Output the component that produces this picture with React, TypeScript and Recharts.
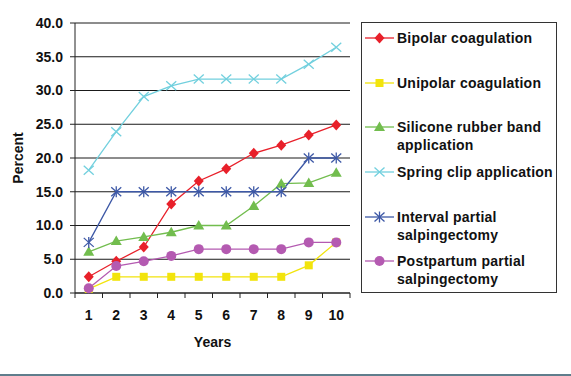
import { LineChart, Line, XAxis, YAxis, CartesianGrid, Legend } from "recharts";

const years = ["1", "2", "3", "4", "5", "6", "7", "8", "9", "10"];
const bipolar = [2.4, 4.7, 6.8, 13.2, 16.6, 18.4, 20.7, 21.9, 23.4, 24.9];
const unipolar = [0.6, 2.4, 2.4, 2.4, 2.4, 2.4, 2.4, 2.4, 4.1, 7.5];
const silicone = [6.1, 7.7, 8.3, 9.0, 10.0, 10.0, 12.9, 16.2, 16.3, 17.8];
const springClip = [18.2, 23.9, 29.1, 30.7, 31.7, 31.7, 31.7, 31.7, 33.9, 36.4];
const interval = [7.5, 15.0, 15.0, 15.0, 15.0, 15.0, 15.0, 15.0, 20.0, 20.0];
const postpartum = [0.7, 4.0, 4.7, 5.5, 6.5, 6.5, 6.5, 6.5, 7.5, 7.5];
const yTicks = [0, 5, 10, 15, 20, 25, 30, 35, 40];

const series = [
  { key: "bipolar", name: "Bipolar coagulation", lines: ["Bipolar coagulation"], color: "#e8202a", kind: "diamond" },
  { key: "unipolar", name: "Unipolar coagulation", lines: ["Unipolar coagulation"], color: "#f2e40c", kind: "square" },
  { key: "silicone", name: "Silicone rubber band application", lines: ["Silicone rubber band", "application"], color: "#72bd4e", kind: "triangle" },
  { key: "springClip", name: "Spring clip application", lines: ["Spring clip application"], color: "#72d0de", kind: "x" },
  { key: "interval", name: "Interval partial salpingectomy", lines: ["Interval partial", "salpingectomy"], color: "#3d58a6", kind: "star" },
  { key: "postpartum", name: "Postpartum partial salpingectomy", lines: ["Postpartum partial", "salpingectomy"], color: "#b45ab1", kind: "circle" },
];

const data = years.map((year, i) => ({
  year,
  bipolar: bipolar[i],
  unipolar: unipolar[i],
  silicone: silicone[i],
  springClip: springClip[i],
  interval: interval[i],
  postpartum: postpartum[i],
}));

const FONT = "Arial, 'Liberation Sans', sans-serif";
const PLOT_LEFT = 75;
const PLOT_W = 275;
const STEP = PLOT_W / years.length;

function Marker({ kind, cx, cy, color }: { kind: string; cx: number; cy: number; color: string }) {
  switch (kind) {
    case "diamond":
      return <polygon points={`${cx},${cy - 5.5} ${cx + 5},${cy} ${cx},${cy + 5.5} ${cx - 5},${cy}`} fill={color} />;
    case "square":
      return <rect x={cx - 4} y={cy - 4} width={8} height={8} fill={color} />;
    case "triangle":
      return <polygon points={`${cx},${cy - 5.5} ${cx + 5.5},${cy + 4} ${cx - 5.5},${cy + 4}`} fill={color} />;
    case "x":
      return (
        <g stroke={color} strokeWidth={1.3}>
          <line x1={cx - 5} y1={cy - 4.5} x2={cx + 5} y2={cy + 4.5} />
          <line x1={cx - 5} y1={cy + 4.5} x2={cx + 5} y2={cy - 4.5} />
        </g>
      );
    case "star":
      return (
        <g stroke={color} strokeWidth={1.3}>
          <line x1={cx - 5} y1={cy - 4.5} x2={cx + 5} y2={cy + 4.5} />
          <line x1={cx - 5} y1={cy + 4.5} x2={cx + 5} y2={cy - 4.5} />
          <line x1={cx} y1={cy - 5.5} x2={cx} y2={cy + 5.5} />
        </g>
      );
    default:
      return <circle cx={cx} cy={cy} r={5} fill={color} />;
  }
}

function XTick(props: any) {
  const { x, y, payload, index } = props;
  const axisY = y - 17;
  return (
    <g>
      <line x1={x - STEP / 2} y1={axisY} x2={x - STEP / 2} y2={axisY + 5} stroke="#222" />
      {index === years.length - 1 && (
        <line x1={x + STEP / 2} y1={axisY} x2={x + STEP / 2} y2={axisY + 5} stroke="#222" />
      )}
      <text x={x} y={y} dy="0.71em" textAnchor="middle" fontSize={14} fontWeight="bold" fill="#111" fontFamily={FONT}>
        {payload.value}
      </text>
    </g>
  );
}

function LegendBox() {
  return (
    <div
      style={{
        boxSizing: "border-box",
        width: 196,
        height: 271,
        border: "1px solid #333",
        background: "#fff",
        paddingTop: 6,
        fontFamily: FONT,
        fontSize: 14,
        fontWeight: "bold",
        color: "#111",
        letterSpacing: "0.25px",
        lineHeight: "18px",
      }}
    >
      {series.map((s) => (
        <div key={s.key} style={{ height: 44.7, display: "flex", alignItems: "flex-start" }}>
          <svg width={35} height={18} style={{ flex: "none" }}>
            <line x1={3} y1={9} x2={32} y2={9} stroke={s.color} strokeWidth={1.3} />
            <Marker kind={s.kind} cx={17.5} cy={9} color={s.color} />
          </svg>
          <div style={{ whiteSpace: "nowrap" }}>
            {s.lines.map((t) => (
              <div key={t}>{t}</div>
            ))}
          </div>
        </div>
      ))}
    </div>
  );
}

export default function App() {
  return (
    <div style={{ position: "absolute", left: 0, top: 0, width: 571, height: 376, background: "#fff", fontFamily: FONT }}>
      <LineChart width={571} height={376} data={data} margin={{ top: 23, right: 221, left: 0, bottom: 0 }}>
        <CartesianGrid vertical={false} stroke="#1a1a1a" strokeDasharray="" />
        <XAxis
          dataKey="year"
          height={83}
          padding={{ left: STEP / 2, right: STEP / 2 }}
          tickSize={0}
          tickMargin={17}
          tickLine={false}
          axisLine={{ stroke: "#222" }}
          tick={<XTick />}
          interval={0}
          label={{ value: "Years", position: "insideBottom", offset: 29, fontSize: 14, fontWeight: "bold", fill: "#111" }}
        />
        <YAxis
          width={PLOT_LEFT}
          domain={[0, 40]}
          ticks={yTicks}
          tickFormatter={(v: number) => v.toFixed(1)}
          tickSize={5}
          tickMargin={7}
          tickLine={{ stroke: "#222" }}
          axisLine={{ stroke: "#222" }}
          tick={{ fontSize: 14, fontWeight: "bold", fill: "#111", fontFamily: FONT }}
          label={{ value: "Percent", angle: -90, position: "insideLeft", offset: 18, fontSize: 14, fontWeight: "bold", fill: "#111", style: { textAnchor: "middle" } }}
        />
        <YAxis yAxisId="r" orientation="right" width={0} domain={[0, 40]} tick={false} tickLine={false} axisLine={{ stroke: "#222" }} />
        {series.map((s) => (
          <Line
            key={s.key}
            dataKey={s.key}
            name={s.name}
            stroke={s.color}
            strokeWidth={1.3}
            isAnimationActive={false}
            dot={(p: any) => <Marker key={`${s.key}-${p.index}`} kind={s.kind} cx={p.cx} cy={p.cy} color={s.color} />}
            activeDot={false}
          />
        ))}
        <Legend
          layout="horizontal"
          verticalAlign="middle"
          align="center"
          content={<LegendBox />}
          wrapperStyle={{ left: 361, top: 22, width: 196, height: 271, margin: 0 }}
        />
      </LineChart>
      <div style={{ position: "absolute", left: 0, top: 374, width: 571, height: 2, background: "#5f7d8c" }} />
    </div>
  );
}
